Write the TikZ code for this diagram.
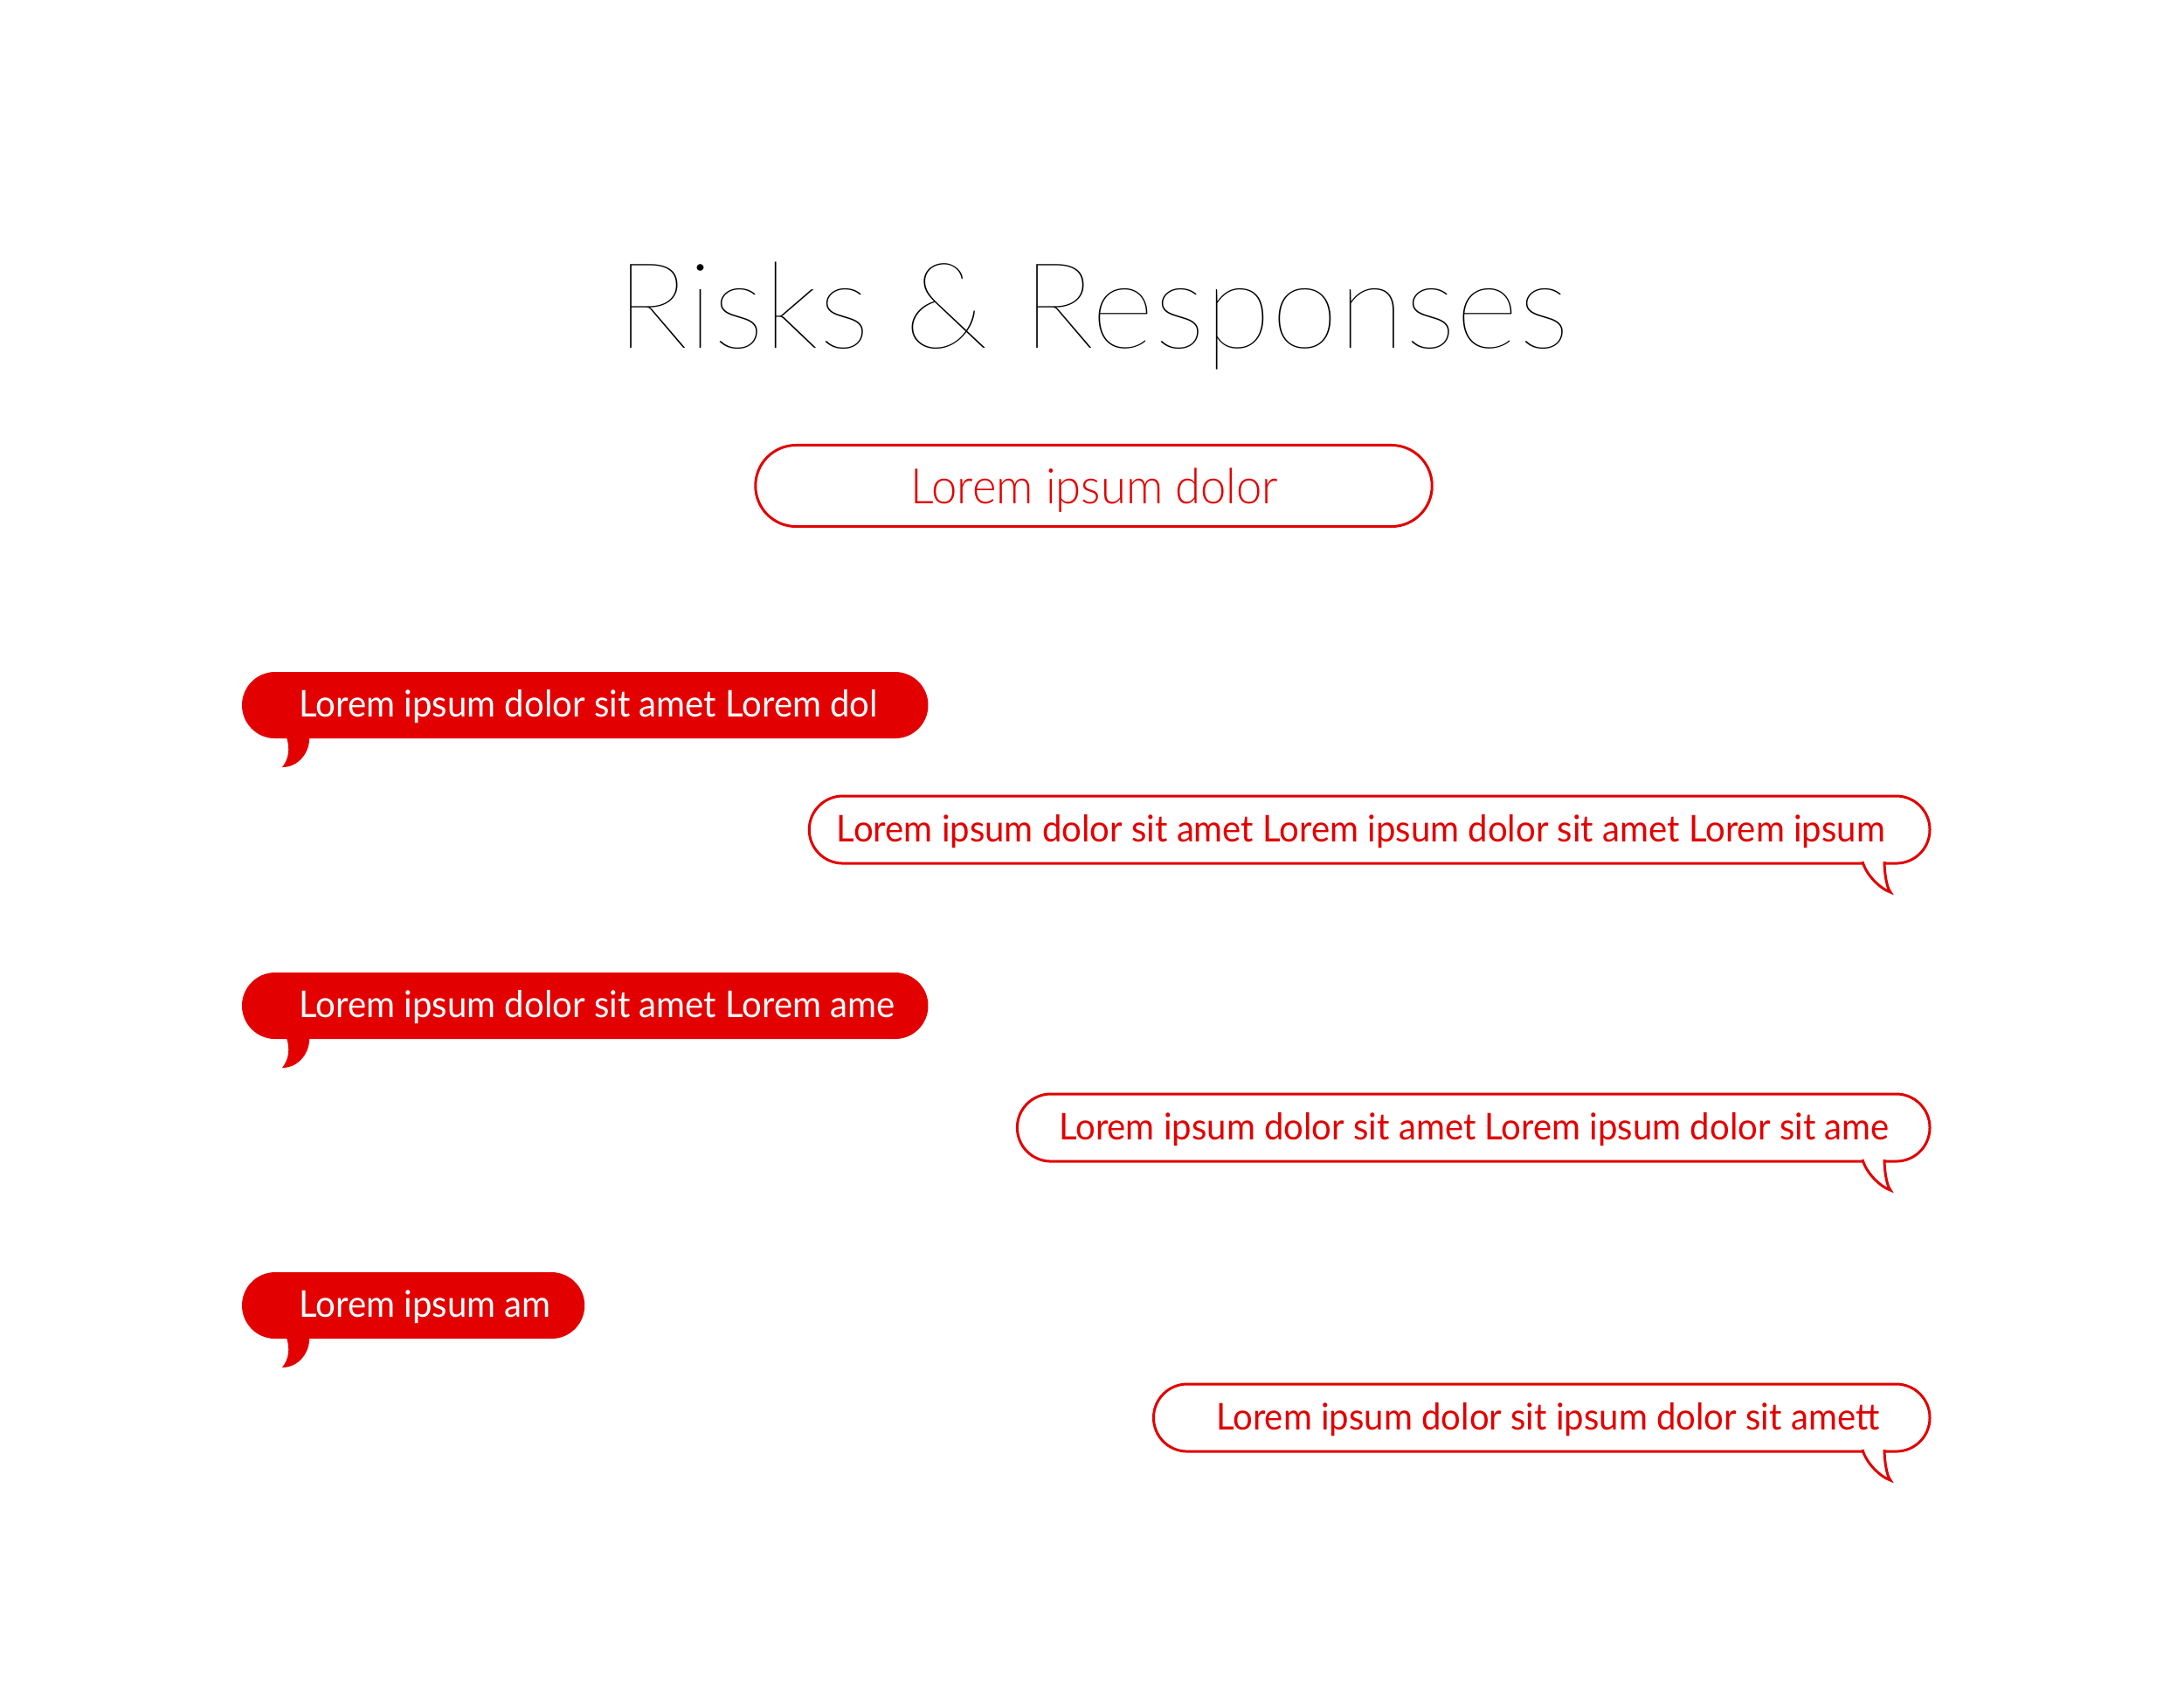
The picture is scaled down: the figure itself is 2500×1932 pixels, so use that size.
\documentclass[tikz,border=0pt]{standalone}
\usepackage{fontspec}
\setmainfont{Lato}
\newfontfamily\titlefont{Lato Hairline}[FakeStretch=1.02]
\newfontfamily\pillfont{Lato Light}[FakeStretch=0.94]
\newfontfamily\bubblefont{Lato}[FakeStretch=0.95]
\usetikzlibrary{calc}
\definecolor{riskred}{HTML}{E20000}
\tikzset{
  solidbubble/.style={fill=riskred, rounded corners=0.379cm, minimum height=0.76cm, inner sep=0, outer sep=0, anchor=north west},
  openbubble/.style={draw=riskred, line width=0.03cm, fill=white, rounded corners=0.384cm, minimum height=0.77cm, inner sep=0, outer sep=0, anchor=north east},
  pillbox/.style={draw=riskred, line width=0.03cm, rounded corners=0.464cm, minimum height=0.93cm, minimum width=7.74cm, inner sep=0, outer sep=0},
  solidtext/.style={anchor=base west, text=white, inner sep=0, font=\bubblefont\fontsize{12.0}{15}\selectfont},
  opentext/.style={anchor=base west, text=riskred, inner sep=0, font=\bubblefont\fontsize{12.0}{14}\selectfont},
  pilltext/.style={anchor=base, text=riskred, inner sep=0, font=\pillfont\fontsize{15.9}{19}\selectfont},
  titletext/.style={anchor=base, inner sep=0, font=\titlefont\fontsize{38.9}{46}\selectfont},
}

\begin{document}
\begin{tikzpicture}[x=0.01cm, y=-0.01cm]
\useasboundingbox (0,0) rectangle (2500,1932);

\node[titletext] (title) at (1251,398) {Risks \& Responses};
\node[pillbox] (pill) at (1252,556) {};
\node[pilltext] (pill-label) at (1253,576) {Lorem ipsum dolor};

% red bubbles, tail at lower left
\foreach \n/\y/\w/\t in {s1/769/7.85/Lorem ipsum dolor sit amet Lorem dol,
                         s2/1113/7.85/Lorem ipsum dolor sit amet Lorem ame,
                         s3/1456/3.92/Lorem ipsum am} {
  \node[solidbubble, minimum width=\w cm] (\n) at (277,\y) {};
  \node[solidtext] (\n-label) at ($(\n.north west)+(65,51)$) {\t};
  \fill[riskred] ($(\n.south west)+(51,-1)$) .. controls +(4,12) and +(8,-10) .. ($(\n.south west)+(46,33)$)
    .. controls +(20,0) and +(1,15) .. ($(\n.south west)+(77,-1)$) -- cycle;
}

% outlined bubbles, tail at lower right
\foreach \n/\y/\w/\l/\t in {o1/911/12.82/31/Lorem ipsum dolor sit amet Lorem ipsum dolor sit amet Lorem ipsum,
                            o2/1252/10.44/47/Lorem ipsum dolor sit amet Lorem ipsum dolor sit ame,
                            o3/1584/8.88/71/Lorem ipsum dolor sit ipsum dolor sit amett} {
  \node[openbubble, minimum width=\w cm] (\n) at (2209,\y) {};
  \node[opentext] (\n-label) at ($(\n.north west)+(\l,52)$) {\t};
  \filldraw[fill=white, draw=riskred, line width=0.03cm] ($(\n.south east)+(-77,-2)$) .. controls +(4,15) and +(-12,-4) .. ($(\n.south east)+(-45,33)$)
    .. controls +(-5,-6) and +(0,10) .. ($(\n.south east)+(-52,-2)$);
}
\end{tikzpicture}
\end{document}
